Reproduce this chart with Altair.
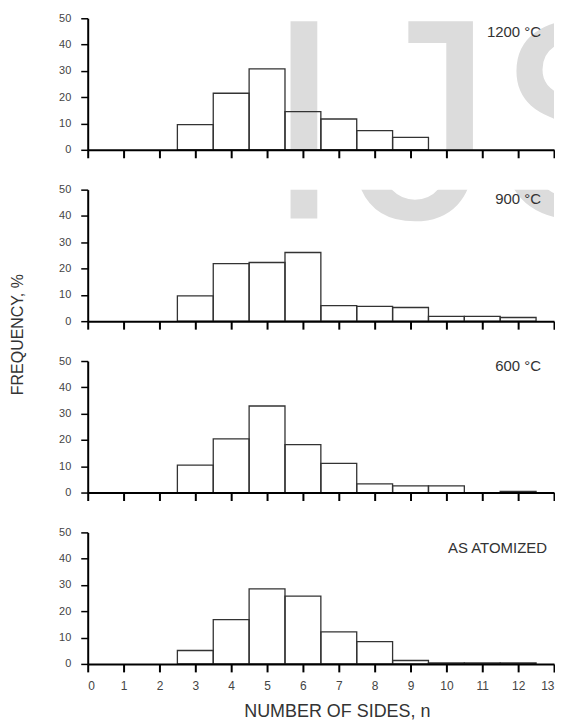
import altair as alt
import pandas as pd

sides = [3, 4, 5, 6, 7, 8, 9, 10, 11, 12]
freq_1200 = [9.6, 21.5, 30.8, 14.5, 11.7, 7.3, 4.7, 0, 0, 0]
freq_900 = [9.6, 21.9, 22.3, 26.1, 5.9, 5.6, 5.2, 1.8, 1.8, 1.4]
freq_600 = [10.4, 20.4, 32.9, 18.2, 11.1, 3.3, 2.5, 2.5, 0, 0.4]
freq_atom = [5.1, 16.8, 28.5, 25.8, 12.2, 8.5, 1.3, 0.4, 0.4, 0.4]
panel_labels = ["1200 °C", "900 °C", "600 °C", "AS ATOMIZED"]
x_ticks = list(range(0, 14))
y_ticks = [0, 10, 20, 30, 40, 50]
watermark_glyphs = ["I", "J", "S"]

FONT = "Liberation Sans"
W, H = 468, 132
WM_X = [217, 336, 504]


def panel(vals, label, label_dx, label_dy, bottom, wm_dy=None):
    df = pd.DataFrame({"n": sides, "f": vals})
    xaxis_kw = dict(
        values=x_ticks, grid=False, domainColor="black", domainWidth=2,
        tickColor="black", tickWidth=2, tickSize=8, zindex=1,
        labelFont=FONT, labelFontSize=12, labelColor="#444", labelPadding=9,
    )
    if bottom:
        xaxis = alt.Axis(title="NUMBER OF SIDES, n", titleFont=FONT, titleFontSize=18,
                         titleFontWeight="normal", titleColor="#333", titlePadding=11,
                         titleX=250, **xaxis_kw)
    else:
        xaxis = alt.Axis(title=None, labels=False, **xaxis_kw)
    yaxis = alt.Axis(values=y_ticks, grid=False, title=None, domainColor="black",
                     domainWidth=2, tickColor="black", tickWidth=1.5, tickSize=7,
                     zindex=1, labelFont=FONT, labelFontSize=11, labelColor="#444",
                     labelPadding=10)
    bars = (
        alt.Chart(df)
        .transform_filter("datum.f > 0")
        .transform_calculate(lo="datum.n - 0.5", hi="datum.n + 0.5")
        .mark_bar(fillOpacity=0, stroke="#333", strokeWidth=1.3)
        .encode(
            x=alt.X("lo:Q", scale=alt.Scale(domain=[0, 13], nice=False), axis=xaxis),
            x2="hi:Q",
            y=alt.Y("f:Q", scale=alt.Scale(domain=[0, 50], nice=False), axis=yaxis),
            y2=alt.datum(0),
        )
    )
    txt = (
        alt.Chart(pd.DataFrame({"t": [label]}))
        .mark_text(align="right", baseline="middle", font=FONT, fontSize=15, color="#333")
        .encode(x=alt.value(label_dx), y=alt.value(label_dy), text="t:N")
    )
    layers = []
    if wm_dy is not None:
        for g, gx in zip(watermark_glyphs, WM_X):
            layers.append(
                alt.Chart(pd.DataFrame({"t": [g]}))
                .mark_text(align="center", baseline="alphabetic", font=FONT,
                           fontSize=288, color="#dcdcdc", clip=True)
                .encode(x=alt.value(gx), y=alt.value(wm_dy), text="t:N")
            )
    layers += [bars, txt]
    return alt.layer(*layers).properties(width=W, height=H)


p1 = panel(freq_1200, panel_labels[0], 455, 14, False, wm_dy=201)
p2 = panel(freq_900, panel_labels[1], 455, 9, False, wm_dy=201 - 172)
p3 = panel(freq_600, panel_labels[2], 455, 5, False)
p4 = panel(freq_atom, panel_labels[3], 461, 16, True)

chart = (
    alt.vconcat(p1, p2, p3, p4, spacing=40, bounds="flush")
    .properties(
        title=alt.TitleParams("FREQUENCY, %", orient="left", anchor="middle", font=FONT,
                              fontSize=16, fontWeight="normal", color="#333", offset=33,
                              dx=32),
        padding={"left": 1, "top": 3, "right": 0, "bottom": 5},
    )
    .configure_view(strokeWidth=0)
)

chart.save("out.html", embed_options={"renderer": "svg", "actions": False})
